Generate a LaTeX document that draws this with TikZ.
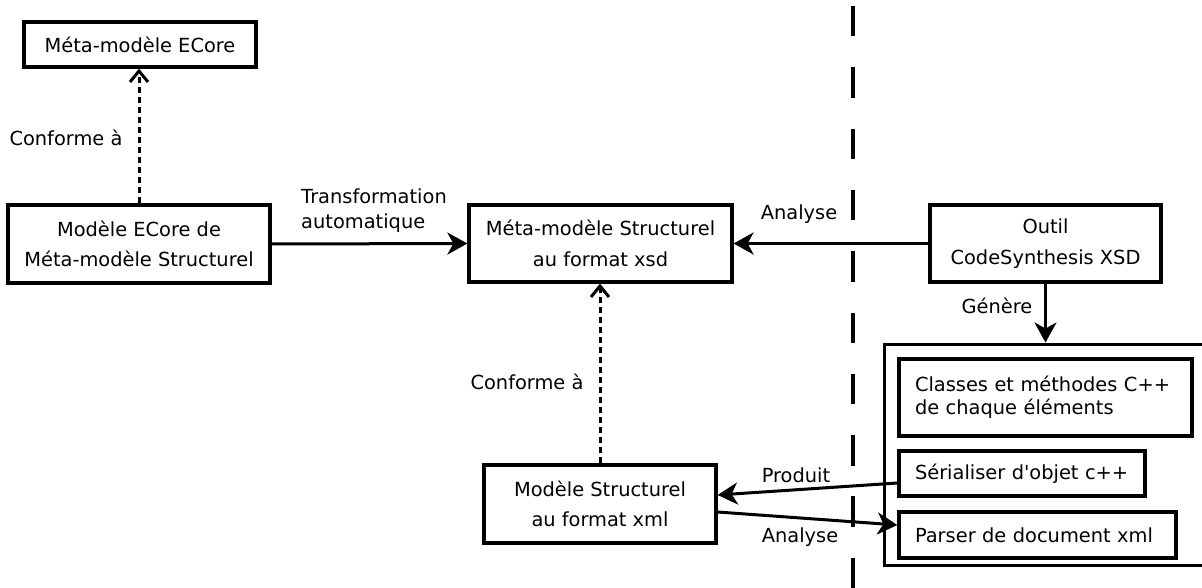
\documentclass[tikz,border=0pt]{standalone}
\usepackage{fontspec}
\setmainfont{DejaVu Sans}
\usetikzlibrary{arrows.meta}

\tikzset{
  box/.style={draw, line width=3.2pt, inner sep=0pt, align=center,
    font=\fontsize{19.4}{30.5}\selectfont},
  listbox/.style={draw, line width=3.2pt, inner ysep=0pt, inner xsep=16pt,
    align=left, font=\fontsize{19.4}{23}\selectfont},
  lbl/.style={inner sep=0pt, font=\fontsize{19.4}{25}\selectfont},
  flow/.style={line width=3pt, -{Stealth[length=20pt, width=22pt, inset=6pt]}},
  conform/.style={line width=3pt, dash pattern=on 6.5pt off 3.5pt,
    -{Straight Barb[length=11pt, width=18pt, line width=3pt]}},
  border/.style={line width=3.2pt, dash pattern=on 30.5pt off 30.8pt},
}

\begin{document}
\begin{tikzpicture}[x=1pt, y={(0pt,-1pt)}]
  \useasboundingbox (0,0) rectangle (1202,588);
  \clip (0,0) rectangle (1202,588);

  % boundary between the model side and the generated code side
  \coordinate (septop) at (853,6);
  \coordinate (sepbot) at (853,600);
  \draw[border] (septop) -- (sepbot);

  % models
  \node[box, minimum width=232pt, minimum height=45pt] (ecore) at (140,44.5) {Méta-modèle ECore};
  \node[box, minimum width=262pt, minimum height=78pt] (ecoremodel) at (139,244)
    {Modèle ECore de\\Méta-modèle Structurel};
  \node[box, minimum width=263pt, minimum height=77pt] (xsd) at (600.5,243.5)
    {Méta-modèle Structurel\\au format xsd};
  \node[box, minimum width=231pt, minimum height=77pt] (tool) at (1045.5,243.5)
    {Outil\\CodeSynthesis XSD};
  \node[box, minimum width=232pt, minimum height=78pt] (xml) at (600,504)
    {Modèle Structurel\\au format xml};

  % generated code
  \node[draw, line width=3pt, inner sep=0pt, minimum width=326pt, minimum height=221pt]
    (generated) at (1047,454.5) {};
  \node[listbox, text width=261pt, minimum height=77pt] (classes) at (1045.5,397.5)
    {Classes et méthodes C++\\de chaque éléments};
  \node[listbox, text width=214pt, minimum height=45pt] (serial) at (1022,473.5)
    {Sérialiser d\textquotesingle objet c++};
  \node[listbox, text width=245pt, minimum height=46pt] (parser) at (1037.5,535)
    {Parser de document xml};

  % conformance relations
  \draw[conform] (ecoremodel.north) -- (ecoremodel.north |- ecore.south);
  \draw[conform] (xml.north) -- (xml.north |- xsd.south);
  \node[lbl] (c1) at (66,138) {Conforme à};
  \node[lbl] (c2) at (527,382) {Conforme à};

  % transformations
  \draw[flow] (ecoremodel.east) -- (xsd.west);
  \node[lbl, align=left] (trans) at (374,210.5) {Transformation\\automatique};

  \draw[flow] (tool.west) -- (xsd.east);
  \node[lbl] (an1) at (799,214) {Analyse};

  \draw[flow] (tool.south) -- (tool.south |- generated.north);
  \node[lbl] (gen) at (997,306) {Génère};

  \draw[flow] ([yshift=-9.5pt]serial.west) -- ([yshift=9pt]xml.east);
  \node[lbl] (prod) at (796,475) {Produit};

  \draw[flow] ([yshift=-8pt]xml.east) -- ([yshift=10pt]parser.west);
  \node[lbl] (an2) at (800,537) {Analyse};
\end{tikzpicture}
\end{document}
